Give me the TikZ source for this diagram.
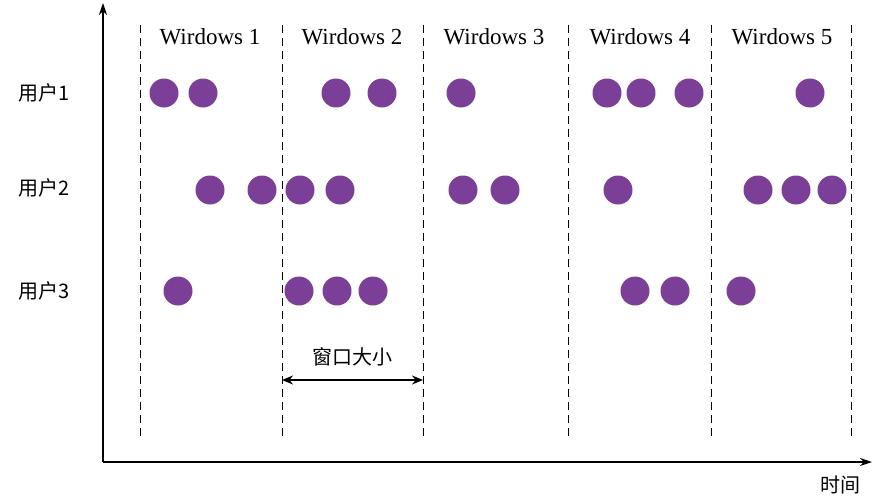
\documentclass[tikz,border=0pt]{standalone}
\usepackage{fontspec}
\setmainfont{Liberation Serif}
\newfontfamily\cjk{Noto Sans CJK SC}
\usetikzlibrary{arrows.meta}
\definecolor{dotpurple}{RGB}{123,63,152}
\tikzset{
  dot/.style={circle,fill=dotpurple,minimum size=29pt,inner sep=0pt},
  winline/.style={dashed,dash pattern=on 8pt off 5pt,line width=1pt},
  lbl/.style={font=\fontsize{23}{23}\selectfont},
  cjklbl/.style={font=\cjk\fontsize{20}{20}\selectfont},
}
\begin{document}
\begin{tikzpicture}[x=1pt,y=-1pt]
  \useasboundingbox (0,0) rectangle (883,498);
  % axes
  \coordinate (o) at (103,462);
  \coordinate (ytop) at (103,3);
  \coordinate (xend) at (872,462);
  \draw[line width=1.2pt,-{Stealth[length=12pt,width=8pt]}] (o) -- (ytop);
  \draw[line width=1.2pt,-{Stealth[length=12pt,width=8pt]}] (o) -- (xend);
  \node[cjklbl] (tlabel) at (840,485) {时间};

  % windows
  \foreach \x [count=\i] in {140,282,423,568,711,851}{
    \coordinate (w\i top) at (\x,25);
    \coordinate (w\i bot) at (\x,440);
    \draw[winline] (w\i top) -- (w\i bot);
  }
  \foreach \x [count=\i] in {210,352,494,640,782}{
    \node[lbl] (win\i) at (\x,37) {Wirdows \i};
  }

  % users
  \foreach \y [count=\i] in {93,188,291}{
    \node[cjklbl] (user\i) at (44,\y) {用户\i};
  }
  \foreach \x in {164,203,336,382,461,607,641,689,810}
    \node[dot] at (\x,93) {};
  \foreach \x in {210,262,300,340,463,505,618,758,796,832}
    \node[dot] at (\x,190) {};
  \foreach \x in {178,299,337,373,635,675,741}
    \node[dot] at (\x,291) {};

  % window size
  \coordinate (sl) at (282,380);
  \coordinate (sr) at (423,380);
  \draw[line width=2pt,{Stealth[length=11pt,width=9pt]}-{Stealth[length=11pt,width=9pt]}] (sl) -- (sr);
  \node[cjklbl] (size) at (352,357) {窗口大小};
\end{tikzpicture}
\end{document}
